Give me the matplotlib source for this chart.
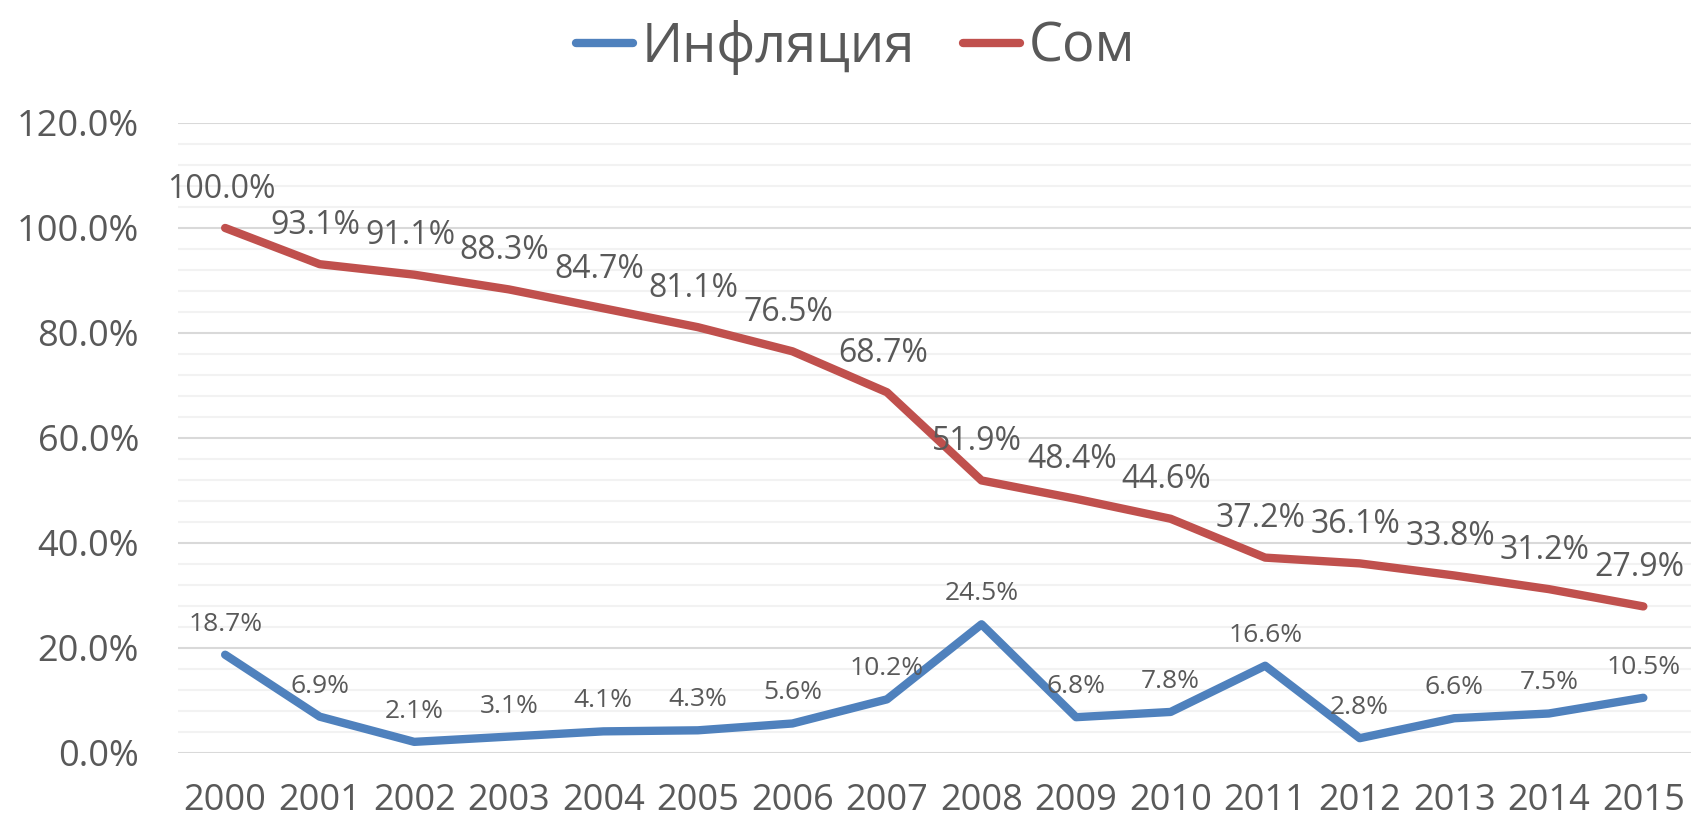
import matplotlib.pyplot as plt
from matplotlib.ticker import MultipleLocator, FuncFormatter

plt.rcParams['font.family'] = ['Open Sans', 'DejaVu Sans']

years = ['2000', '2001', '2002', '2003', '2004', '2005', '2006', '2007',
         '2008', '2009', '2010', '2011', '2012', '2013', '2014', '2015']
inflation = [18.7, 6.9, 2.1, 3.1, 4.1, 4.3, 5.6, 10.2,
             24.5, 6.8, 7.8, 16.6, 2.8, 6.6, 7.5, 10.5]
som = [100.0, 93.1, 91.1, 88.3, 84.7, 81.1, 76.5, 68.7,
       51.9, 48.4, 44.6, 37.2, 36.1, 33.8, 31.2, 27.9]

text_color = '#595959'
blue = '#4F81BD'
red = '#C0504D'

fig = plt.figure(figsize=(16.94, 8.31), dpi=100)
ax = fig.add_axes([0.105, 0.094, 0.893, 0.758])

x = range(len(years))
ax.plot(x, inflation, color=blue, lw=6, solid_capstyle='round', label='Инфляция', zorder=3)
ax.plot(x, som, color=red, lw=6, solid_capstyle='round', label='Сом', zorder=3)

for i, v in enumerate(inflation):
    ax.annotate(f'{v:.1f}%', (i, v), xytext=(0, 22), textcoords='offset points',
                ha='center', va='center', fontsize=19, color=text_color, zorder=4)
for i, v in enumerate(som):
    ax.annotate(f'{v:.1f}%', (i, v), xytext=(-3, 28), textcoords='offset points',
                ha='center', va='center', fontsize=23, color=text_color, zorder=4)

ax.set_xlim(-0.5, len(years) - 0.5)
ax.set_ylim(0, 120)
ax.set_xticks(list(x))
ax.set_xticklabels(years)
ax.yaxis.set_major_locator(MultipleLocator(20))
ax.yaxis.set_minor_locator(MultipleLocator(4))
ax.yaxis.set_major_formatter(FuncFormatter(lambda v, p: f'{v:.1f}%'))
ax.grid(axis='y', which='major', color='#D9D9D9', lw=1.5, zorder=0)
ax.grid(axis='y', which='minor', color='#F2F2F2', lw=1.5, zorder=0)
ax.tick_params(axis='both', which='both', length=0, colors=text_color, labelsize=26)
ax.tick_params(axis='y', pad=28)
ax.tick_params(axis='x', pad=22)
for s in ax.spines.values():
    s.set_visible(False)

leg = fig.legend(loc='upper center', bbox_to_anchor=(0.505, 1.035), ncol=2, frameon=False,
                 fontsize=39, handlelength=1.05, handletextpad=0.15, columnspacing=0.9,
                 labelcolor=text_color)

fig.savefig('out.png', dpi=100)
